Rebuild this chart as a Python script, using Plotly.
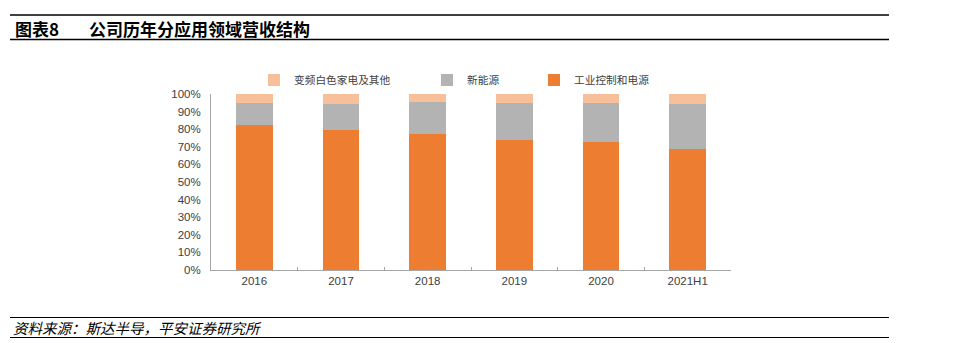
import plotly.graph_objects as go

categories = ["2016", "2017", "2018", "2019", "2020", "2021H1"]
industrial = [82.6, 79.4, 77.5, 74.1, 72.9, 68.8]      # 工业控制和电源
new_energy = [12.3, 14.9, 18.1, 21.0, 22.2, 25.7]      # 新能源
appliance = [5.1, 5.7, 4.4, 4.9, 4.9, 5.5]             # 变频白色家电及其他
y_ticks = [0, 10, 20, 30, 40, 50, 60, 70, 80, 90, 100]
y_tick_labels = [f"{v}%" for v in y_ticks]

W, H = 957, 343
L, R, T, B = 211, 226, 94, 73
PW, PH = W - L - R, H - T - B


def px(x):
    return (x - L) / PW


def py(y):
    return (H - B - y) / PH


CJK = "Noto Sans CJK SC"
LAT = "Liberation Sans, Arial, " + CJK

fig = go.Figure()
fig.add_trace(go.Bar(x=categories, y=industrial, name="工业控制和电源",
                     marker=dict(color="#ED7D31", line=dict(width=0)), legend="legend3"))
fig.add_trace(go.Bar(x=categories, y=new_energy, name="新能源",
                     marker=dict(color="#B3B3B3", line=dict(width=0)), legend="legend2"))
fig.add_trace(go.Bar(x=categories, y=appliance, name="变频白色家电及其他",
                     marker=dict(color="#F8C09A", line=dict(width=0)), legend="legend"))

leg_common = dict(orientation="h", xanchor="left", yanchor="middle", y=py(80),
                  font=dict(family=CJK, size=10.7, color="#404040"),
                  bgcolor="rgba(0,0,0,0)", itemwidth=30, tracegroupgap=0)

fig.update_layout(
    width=W, height=H,
    margin=dict(l=L, r=R, t=T, b=B),
    paper_bgcolor="white", plot_bgcolor="white",
    barmode="stack", bargap=0.575,
    showlegend=True,
    legend=dict(x=px(254), **leg_common),
    legend2=dict(x=px(427), **leg_common),
    legend3=dict(x=px(534), **leg_common),
    xaxis=dict(showgrid=False, showline=True, linecolor="#A6A6A6", linewidth=1,
               ticks="inside", ticklen=3, tickcolor="#A6A6A6", tickson="boundaries",
               tickfont=dict(family=LAT, size=11.5, color="#404040"), zeroline=False),
    yaxis=dict(range=[0, 100], tickvals=y_ticks, ticktext=y_tick_labels,
               showgrid=False, showline=True, linecolor="#A6A6A6", linewidth=1,
               ticks="", ticklabelstandoff=7,
               tickfont=dict(family=LAT, size=11.5, color="#404040"), zeroline=False),
    annotations=[
        dict(text="<b>图表8</b>", x=px(13), y=py(28), xref="paper", yref="paper",
             xanchor="left", yanchor="middle", showarrow=False,
             font=dict(family=CJK, size=17, color="black")),
        dict(text="<b>公司历年分应用领域营收结构</b>", x=px(87), y=py(28), xref="paper", yref="paper",
             xanchor="left", yanchor="middle", showarrow=False,
             font=dict(family=CJK, size=17, color="black")),
        dict(text="资料来源：斯达半导，平安证券研究所", x=px(11), y=py(327), xref="paper", yref="paper",
             xanchor="left", yanchor="middle", showarrow=False,
             font=dict(family=CJK, size=14.5, color="black", style="italic")),
    ],
    shapes=[
        dict(type="line", xref="paper", yref="paper", x0=px(10), x1=px(889), y0=py(15), y1=py(15),
             line=dict(color="black", width=1.5)),
        dict(type="line", xref="paper", yref="paper", x0=px(10), x1=px(889), y0=py(39.5), y1=py(39.5),
             line=dict(color="black", width=1.5)),
        dict(type="line", xref="paper", yref="paper", x0=px(10), x1=px(889), y0=py(317.5), y1=py(317.5),
             line=dict(color="black", width=1.2)),
        dict(type="line", xref="paper", yref="paper", x0=px(10), x1=px(889), y0=py(337.5), y1=py(337.5),
             line=dict(color="black", width=1.2)),
    ],
)

fig.write_html("out.html")
